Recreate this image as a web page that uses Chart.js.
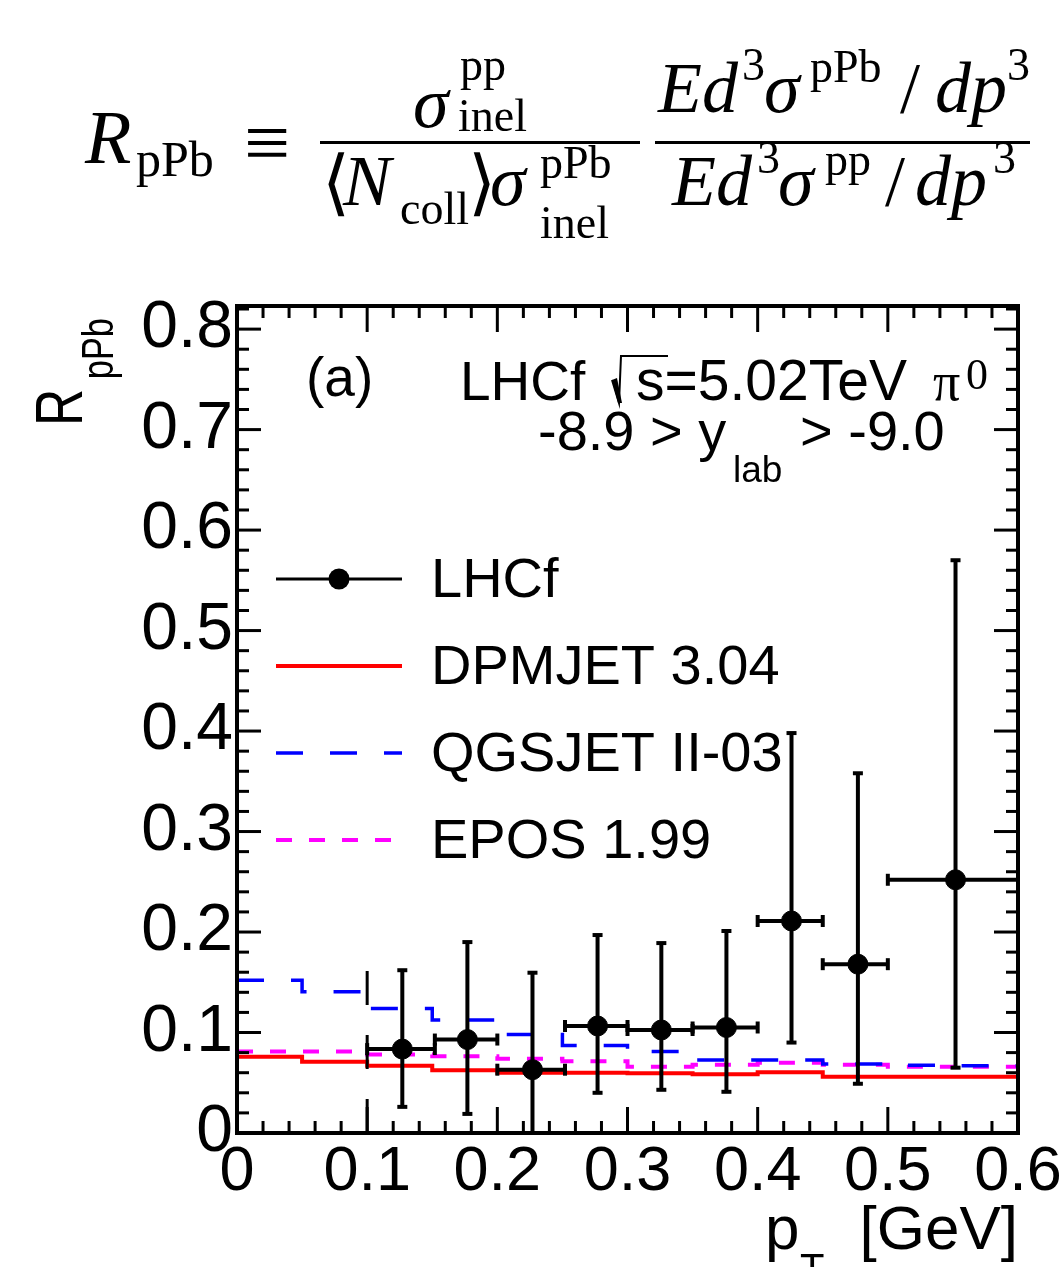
<!DOCTYPE html>
<html>
<head>
<meta charset="utf-8">
<script src="https://cdn.jsdelivr.net/npm/chart.js@4.4.0/dist/chart.umd.min.js"></script>
<style>
html, body { margin: 0; padding: 0; background: #fff; }
canvas { display: block; }
</style>
</head>
<body>
<canvas id="c" width="1064" height="1267"></canvas>
<script>
// model histograms, bin edges in GeV
var binEdges = [0, 0.05, 0.1, 0.15, 0.2, 0.25, 0.3, 0.35, 0.4, 0.45, 0.5, 0.55, 0.6];
var dpmjet = [0.076, 0.071, 0.067, 0.0625, 0.060, 0.060, 0.0595, 0.0585, 0.0605, 0.056, 0.056, 0.056];
var qgsjet = [0.152, 0.1406, 0.124, 0.1124, 0.098, 0.087, 0.081, 0.0726, 0.0726, 0.0687, 0.0674, 0.067];
var epos   = [0.081, 0.081, 0.078, 0.0765, 0.074, 0.0715, 0.066, 0.068, 0.070, 0.068, 0.066, 0.066];

// LHCf data points with error bars
var lhcfX    = [0.127, 0.177, 0.227, 0.277, 0.326, 0.376, 0.426, 0.477, 0.552];
var lhcfY    = [0.0835, 0.093, 0.063, 0.1065, 0.1025, 0.105, 0.211, 0.168, 0.252];
var lhcfXLo  = [0.1, 0.152, 0.2, 0.252, 0.3, 0.35, 0.4, 0.45, 0.5];
var lhcfXHi  = [0.152, 0.2, 0.252, 0.3, 0.35, 0.4, 0.45, 0.5, 0.6];
var lhcfYLo  = [0.026, 0.019, 0, 0.040, 0.043, 0.041, 0.090, 0.049, 0.065];
var lhcfYHi  = [0.162, 0.190, 0.1595, 0.197, 0.189, 0.201, 0.398, 0.358, 0.570];

// dashed marker line at pT = 0.1
var edgeLineX = [0.1, 0.1];
var edgeLineY = [0, 0.19];

var xTickLabels = ['0', '0.1', '0.2', '0.3', '0.4', '0.5', '0.6'];
var yTickLabels = ['0', '0.1', '0.2', '0.3', '0.4', '0.5', '0.6', '0.7', '0.8'];

var SANS = '"Liberation Sans", Arial, sans-serif';
var SERIF = '"Liberation Serif", "DejaVu Serif", serif';

function stepData(vals) {
	return binEdges.map(function(e, i) {
		return { x: e, y: vals[Math.min(i, vals.length - 1)] };
	});
}

function line(ctx, x0, y0, x1, y1) {
	ctx.beginPath();
	ctx.moveTo(x0, y0);
	ctx.lineTo(x1, y1);
	ctx.stroke();
}

function txt(ctx, s, x, y, font) {
	ctx.font = font;
	ctx.fillText(s, x, y);
}

function drawFormula(ctx) {
	var big = '72px ' + SERIF, bigI = 'italic 72px ' + SERIF, sm = '46px ' + SERIF;
	ctx.fillStyle = '#000';
	ctx.textAlign = 'left';
	ctx.textBaseline = 'alphabetic';
	// R_pPb ≡
	txt(ctx, 'R', 85, 163, 'italic 76px ' + SERIF);
	txt(ctx, 'pPb', 136, 176, '50px ' + SERIF);
	txt(ctx, '\u2261', 244, 170, '82px ' + SERIF);
	// first fraction
	ctx.fillRect(320, 141, 320, 3);
	txt(ctx, '\u03c3', 413, 127, bigI);
	txt(ctx, 'pp', 460, 80, sm);
	txt(ctx, 'inel', 458, 131, sm);
	txt(ctx, '\u27e8', 322, 207, big);
	txt(ctx, 'N', 343, 205, bigI);
	txt(ctx, 'coll', 400, 224, sm);
	txt(ctx, '\u27e9', 468, 207, big);
	txt(ctx, '\u03c3', 490, 205, bigI);
	txt(ctx, 'pPb', 540, 178, sm);
	txt(ctx, 'inel', 540, 238, sm);
	// second fraction
	ctx.fillRect(655, 141, 375, 3);
	txt(ctx, 'Ed', 658, 112, bigI);
	txt(ctx, '3', 742, 80, sm);
	txt(ctx, '\u03c3', 764, 112, bigI);
	txt(ctx, 'pPb', 810, 82, sm);
	txt(ctx, '/', 900, 112, big);
	txt(ctx, 'dp', 935, 112, bigI);
	txt(ctx, '3', 1007, 80, sm);
	txt(ctx, 'Ed', 672, 205, bigI);
	txt(ctx, '3', 757, 173, sm);
	txt(ctx, '\u03c3', 778, 205, bigI);
	txt(ctx, 'pp', 825, 175, sm);
	txt(ctx, '/', 885, 205, big);
	txt(ctx, 'dp', 915, 205, bigI);
	txt(ctx, '3', 993, 173, sm);
}

var decorPlugin = {
	id: 'decor',
	afterDatasetsDraw: function(chart) {
		var ctx = chart.ctx, xs = chart.scales.x, ys = chart.scales.y;
		ctx.save();
		ctx.strokeStyle = '#000';
		ctx.lineWidth = 4;
		for (var i = 0; i < lhcfX.length; i++) {
			var px = xs.getPixelForValue(lhcfX[i]), py = ys.getPixelForValue(lhcfY[i]);
			var x0 = xs.getPixelForValue(lhcfXLo[i]), x1 = xs.getPixelForValue(lhcfXHi[i]);
			var y0 = ys.getPixelForValue(lhcfYLo[i]), y1 = ys.getPixelForValue(lhcfYHi[i]);
			line(ctx, x0, py, x1, py);
			line(ctx, px, y0, px, y1);
			line(ctx, x0, py - 6, x0, py + 6);
			line(ctx, x1, py - 6, x1, py + 6);
			line(ctx, px - 5, y1, px + 5, y1);
			line(ctx, px - 5, y0, px + 5, y0);
		}
		ctx.restore();
	},
	afterDraw: function(chart) {
		var ctx = chart.ctx, a = chart.chartArea, xs = chart.scales.x, ys = chart.scales.y;
		ctx.save();
		ctx.strokeStyle = '#000';
		ctx.fillStyle = '#000';
		ctx.lineWidth = 3;
		// inward ticks on all four sides
		var k, v, p, len;
		for (k = 0; k <= 30; k++) {
			v = k * 0.02;
			p = xs.getPixelForValue(v);
			len = (k % 5 === 0) ? 26 : 12;
			line(ctx, p, a.bottom, p, a.bottom - len);
			line(ctx, p, a.top, p, a.top + len);
		}
		for (k = 0; k <= 41; k++) {
			v = k * 0.02;
			p = ys.getPixelForValue(v);
			len = (k % 5 === 0) ? 24 : 12;
			line(ctx, a.left, p, a.left + len, p);
			line(ctx, a.right, p, a.right - len, p);
		}
		ctx.lineWidth = 4;
		ctx.strokeRect(a.left, a.top, a.right - a.left, a.bottom - a.top);

		// legend
		var lx0 = 276, lx1 = 402, tx = 431;
		var rows = [579, 666, 753, 840];
		ctx.lineWidth = 3;
		ctx.strokeStyle = '#000';
		line(ctx, lx0, rows[0], lx1, rows[0]);
		ctx.beginPath();
		ctx.arc((lx0 + lx1) / 2, rows[0], 10.5, 0, Math.PI * 2);
		ctx.fill();
		ctx.lineWidth = 4;
		ctx.strokeStyle = '#ff0000';
		line(ctx, lx0, rows[1], lx1, rows[1]);
		ctx.lineWidth = 3.5;
		ctx.strokeStyle = '#0000ff';
		ctx.setLineDash([27, 27]);
		line(ctx, lx0, rows[2], lx1, rows[2]);
		ctx.lineWidth = 4;
		ctx.strokeStyle = '#ff00ff';
		ctx.setLineDash([16, 17]);
		line(ctx, lx0, rows[3], lx1, rows[3]);
		ctx.setLineDash([]);
		ctx.fillStyle = '#000';
		ctx.textBaseline = 'middle';
		ctx.textAlign = 'left';
		ctx.font = '56px ' + SANS;
		['LHCf', 'DPMJET 3.04', 'QGSJET II-03', 'EPOS 1.99'].forEach(function(s, i) {
			ctx.fillText(s, tx, rows[i] + 3);
		});

		// labels inside the frame
		ctx.textBaseline = 'alphabetic';
		txt(ctx, '(a)', 306, 396, '55px ' + SANS);
		txt(ctx, 'LHCf', 460, 400, '55px ' + SANS);
		ctx.lineWidth = 2;
		ctx.strokeStyle = '#000';
		ctx.beginPath();
		ctx.moveTo(612, 380);
		ctx.lineTo(619, 403);
		ctx.lineTo(621, 356);
		ctx.lineTo(668, 356);
		ctx.stroke();
		ctx.beginPath();
		ctx.moveTo(612, 380);
		ctx.lineTo(617, 378);
		ctx.lineTo(622, 403);
		ctx.lineTo(618, 403);
		ctx.closePath();
		ctx.fill();
		txt(ctx, 's=5.02TeV', 636, 400, '57px ' + SANS);
		txt(ctx, '\u03c0', 933, 400, '54px ' + SERIF);
		txt(ctx, '0', 966, 389, '44px ' + SERIF);
		txt(ctx, '-8.9 > y', 538, 450, '56px ' + SANS);
		txt(ctx, 'lab', 733, 482, '37px ' + SANS);
		txt(ctx, '> -9.0', 800, 450, '56px ' + SANS);

		// axis titles
		ctx.textAlign = 'right';
		txt(ctx, '[GeV]', 1018, 1249, '62px ' + SANS);
		ctx.textAlign = 'left';
		txt(ctx, 'p', 765, 1249, '62px ' + SANS);
		txt(ctx, 'T', 800, 1282, '40px ' + SANS);

		ctx.save();
		ctx.translate(82, 426);
		ctx.rotate(-Math.PI / 2);
		ctx.scale(0.78, 1);
		txt(ctx, 'R', 0, 0, '66px ' + SANS);
		txt(ctx, 'pPb', 60, 31, '44px ' + SANS);
		ctx.restore();

		drawFormula(ctx);
		ctx.restore();
	}
};

var ctx = document.getElementById('c');

var chart = new Chart(ctx, {
	type: 'line',
	data: {
		datasets: [
			{
				label: 'LHCf',
				data: lhcfX.map(function(x, i) { return { x: x, y: lhcfY[i] }; }),
				showLine: false,
				pointRadius: 10,
				pointBackgroundColor: '#000',
				pointBorderColor: '#000',
				borderColor: '#000',
				order: 0
			},
			{
				label: 'edge',
				data: edgeLineX.map(function(x, i) { return { x: x, y: edgeLineY[i] }; }),
				borderColor: '#000',
				borderWidth: 3,
				borderDash: [34, 30],
				pointRadius: 0,
				order: 1
			},
			{
				label: 'DPMJET 3.04',
				data: stepData(dpmjet),
				stepped: true,
				borderColor: '#ff0000',
				borderWidth: 4,
				pointRadius: 0,
				order: 2
			},
			{
				label: 'QGSJET II-03',
				data: stepData(qgsjet),
				stepped: true,
				borderColor: '#0000ff',
				borderWidth: 3.5,
				borderDash: [27, 27],
				pointRadius: 0,
				order: 3
			},
			{
				label: 'EPOS 1.99',
				data: stepData(epos),
				stepped: true,
				borderColor: '#ff00ff',
				borderWidth: 4,
				borderDash: [16, 17],
				pointRadius: 0,
				order: 4
			}
		]
	},
	options: {
		responsive: false,
		animation: false,
		layout: { padding: { top: 306, right: 46, left: 0, bottom: 0 } },
		plugins: {
			legend: { display: false },
			tooltip: { enabled: false }
		},
		scales: {
			x: {
				type: 'linear',
				min: 0,
				max: 0.6,
				grid: { display: false },
				border: { display: false },
				ticks: {
					stepSize: 0.1,
					autoSkip: false,
					maxRotation: 0,
					padding: -6,
					color: '#000',
					font: { family: SANS, size: 63 },
					callback: function(v, i) { return xTickLabels[i]; }
				},
				afterFit: function(s) {
					s.height = 134;
					s.paddingLeft = 0;
					s.paddingRight = 0;
				}
			},
			y: {
				type: 'linear',
				min: 0,
				max: 0.823,
				grid: { display: false },
				border: { display: false },
				ticks: {
					stepSize: 0.1,
					includeBounds: false,
					autoSkip: false,
					padding: -4,
					color: '#000',
					font: { family: SANS, size: 66 },
					callback: function(v, i) { return yTickLabels[i]; }
				},
				afterFit: function(s) {
					s.width = 237;
					s.paddingTop = 0;
					s.paddingBottom = 0;
				}
			}
		}
	},
	plugins: [decorPlugin]
});
</script>
</body>
</html>
